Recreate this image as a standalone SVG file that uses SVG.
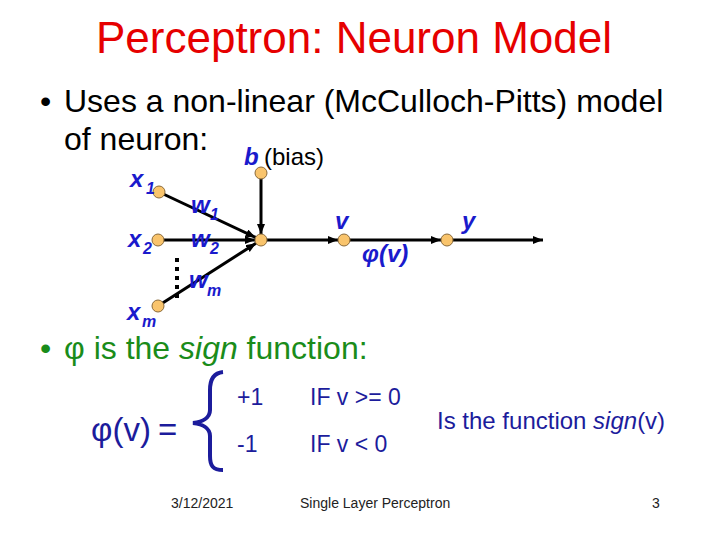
<svg xmlns="http://www.w3.org/2000/svg" width="720" height="540" viewBox="0 0 720 540">
<style>
.title{font-family:"Liberation Sans",Arial,sans-serif;font-size:44px;fill:#e60000}
.body{font-family:"Liberation Sans",Arial,sans-serif;font-size:32px;fill:#000}
.green{font-family:"Liberation Sans",Arial,sans-serif;font-size:32px;fill:#1a8c1a}
.lbl{font-family:"Liberation Sans",Arial,sans-serif;font-size:24px;font-weight:bold;font-style:italic;fill:#1a1acc}
.sub{font-size:16px}
.plain{font-family:"Liberation Sans",Arial,sans-serif;font-size:24px;fill:#000}
.f{font-family:"Liberation Sans",Arial,sans-serif;font-size:23px;fill:#1c1c9c}
.big{font-size:33px}
.mid{font-size:24px}
.foot{font-family:"Liberation Sans",Arial,sans-serif;font-size:14px;fill:#222}
.node{fill:#f9c46c;stroke:#8a6a3a;stroke-width:1}
.edge{stroke:#000;stroke-width:3;fill:none}
</style>
<defs>
<marker id="arr" markerUnits="userSpaceOnUse" markerWidth="11" markerHeight="9" refX="10" refY="4" orient="auto">
<path d="M0,0 L10,4 L0,8 z" fill="#000"/>
</marker>
</defs>
<text class="title" x="354" y="53" text-anchor="middle">Perceptron: Neuron Model</text>
<text class="body" x="40" y="112">•</text>
<text class="body" x="64" y="112">Uses a non-linear (McCulloch-Pitts) model</text>
<text class="body" x="64" y="150">of neuron:</text>

<g id="connectors">
<line class="edge" x1="159" y1="192" x2="255.6" y2="237.4" marker-end="url(#arr)"/>
<line class="edge" x1="158" y1="240" x2="255" y2="240" marker-end="url(#arr)"/>
<line class="edge" x1="158" y1="306" x2="256" y2="243.2" marker-end="url(#arr)"/>
<line class="edge" x1="261" y1="173" x2="261" y2="234" marker-end="url(#arr)"/>
<line class="edge" x1="261" y1="240" x2="338" y2="240" marker-end="url(#arr)"/>
<line class="edge" x1="344" y1="240" x2="441" y2="240" marker-end="url(#arr)"/>
<line class="edge" x1="447" y1="240" x2="543" y2="240" marker-end="url(#arr)"/>
<line x1="177" y1="258" x2="177" y2="298" stroke="#000" stroke-width="4" stroke-dasharray="4 5"/>
</g>

<g id="x1"><circle class="node" cx="159" cy="192" r="6"/><text class="lbl" x="130" y="187">x<tspan class="sub" x="146" y="194">1</tspan></text></g>
<g id="x2"><circle class="node" cx="158" cy="240" r="6"/><text class="lbl" x="128" y="247">x<tspan class="sub" x="143" y="254">2</tspan></text></g>
<g id="xm"><circle class="node" cx="158" cy="306" r="6"/><text class="lbl" x="127" y="320">x<tspan class="sub" x="142" y="327">m</tspan></text></g>
<g id="bias"><circle class="node" cx="261" cy="173" r="6"/><text class="lbl" x="244" y="165">b</text><text class="plain" x="264" y="165">(bias)</text></g>
<g id="sum"><circle class="node" cx="261" cy="240" r="6"/></g>
<g id="weights">
<text class="lbl" x="191" y="213">w<tspan class="sub" x="210" y="220">1</tspan></text>
<text class="lbl" x="191" y="247">w<tspan class="sub" x="210" y="254">2</tspan></text>
<text class="lbl" x="189" y="288">w<tspan class="sub" x="207" y="296">m</tspan></text>
</g>
<g id="v"><circle class="node" cx="344" cy="240" r="6"/><text class="lbl" x="335" y="229">v</text></g>
<text class="lbl" x="362" y="262">φ(v)</text>
<g id="y"><circle class="node" cx="447" cy="240" r="6"/><text class="lbl" x="462" y="229">y</text></g>

<text class="green" x="40" y="359">•</text>
<text class="green" x="64" y="359">φ is the <tspan font-style="italic">sign</tspan> function:</text>

<g id="formula">
<text class="f big" x="91" y="441">φ(v)</text>
<text class="f big" x="158" y="441">=</text>
<path d="M223,372 C213,373 210,380 210,390 L210,410 C210,418 202,422 193,423 C202,424 210,428 210,436 L210,456 C210,466 213,470 223,470" fill="none" stroke="#1c1c9c" stroke-width="4"/>
<text class="f" x="237" y="405">+1</text>
<text class="f" x="310" y="405">IF v &gt;= 0</text>
<text class="f" x="237" y="452">-1</text>
<text class="f" x="310" y="452">IF v &lt; 0</text>
<text class="f mid" x="437" y="429">Is the function <tspan font-style="italic">sign</tspan>(v)</text>
</g>

<text class="foot" x="171" y="508">3/12/2021</text>
<text class="foot" x="300" y="508">Single Layer Perceptron</text>
<text class="foot" x="652" y="508">3</text>
</svg>
